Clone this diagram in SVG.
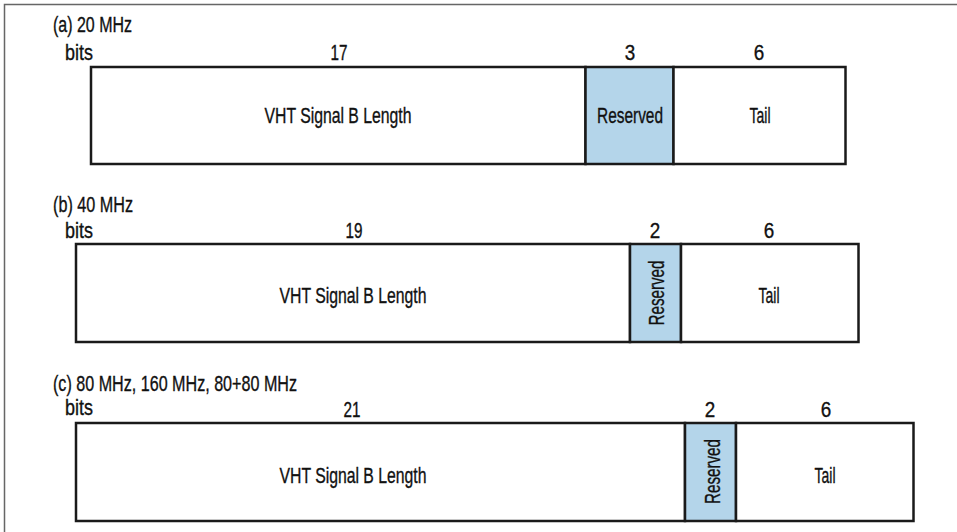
<svg xmlns="http://www.w3.org/2000/svg" width="957" height="532" viewBox="0 0 957 532">
<style>
text{font-family:"Liberation Sans Narrow","Liberation Sans",Arial,sans-serif;font-size:22px;fill:#111;stroke:#111;stroke-width:0.35}
.m{text-anchor:middle}
.box{fill:#fff;stroke:#1a1a1a;stroke-width:2.5}
.res{fill:#b4d5ea;stroke:#1a1a1a;stroke-width:2.5}
.frame{fill:none;stroke:#666;stroke-width:1.5}
</style>
<path class="frame" d="M4.5 532V4.5H957"/>
<g id="row-a">
<text x="53" y="32" textLength="79" lengthAdjust="spacingAndGlyphs">(a) 20 MHz</text>
<text x="65" y="60" textLength="28" lengthAdjust="spacingAndGlyphs">bits</text>
<text class="m" x="339" y="60" textLength="17" lengthAdjust="spacingAndGlyphs">17</text>
<text class="m" x="630" y="60" textLength="10.5" lengthAdjust="spacingAndGlyphs">3</text>
<text class="m" x="759" y="60" textLength="10.5" lengthAdjust="spacingAndGlyphs">6</text>
<g id="a-length"><rect class="box" x="91" y="67" width="494.5" height="97"/><text class="m" x="338" y="122.5" textLength="147" lengthAdjust="spacingAndGlyphs">VHT Signal B Length</text></g>
<g id="a-reserved"><rect class="res" x="585.5" y="67" width="88" height="97"/><text class="m" x="630" y="122.5" textLength="66" lengthAdjust="spacingAndGlyphs">Reserved</text></g>
<g id="a-tail"><rect class="box" x="673.5" y="67" width="172" height="97"/><text class="m" x="760" y="122.5" textLength="21" lengthAdjust="spacingAndGlyphs">Tail</text></g>
</g>
<g id="row-b">
<text x="53" y="211.5" textLength="80" lengthAdjust="spacingAndGlyphs">(b) 40 MHz</text>
<text x="65" y="238" textLength="28" lengthAdjust="spacingAndGlyphs">bits</text>
<text class="m" x="354" y="237.5" textLength="17" lengthAdjust="spacingAndGlyphs">19</text>
<text class="m" x="655" y="237.5" textLength="10.5" lengthAdjust="spacingAndGlyphs">2</text>
<text class="m" x="769" y="237.5" textLength="10.5" lengthAdjust="spacingAndGlyphs">6</text>
<g id="b-length"><rect class="box" x="76" y="244" width="554" height="98"/><text class="m" x="353" y="302.5" textLength="147" lengthAdjust="spacingAndGlyphs">VHT Signal B Length</text></g>
<g id="b-reserved"><rect class="res" x="630" y="244" width="51" height="98"/><text class="m" transform="translate(664 293) rotate(-90)" textLength="65" lengthAdjust="spacingAndGlyphs">Reserved</text></g>
<g id="b-tail"><rect class="box" x="681" y="244" width="177.5" height="98"/><text class="m" x="769" y="302.5" textLength="21" lengthAdjust="spacingAndGlyphs">Tail</text></g>
</g>
<g id="row-c">
<text x="53" y="390.5" textLength="244" lengthAdjust="spacingAndGlyphs">(c) 80 MHz, 160 MHz, 80+80 MHz</text>
<text x="65" y="415" textLength="28" lengthAdjust="spacingAndGlyphs">bits</text>
<text class="m" x="352" y="416.5" textLength="17" lengthAdjust="spacingAndGlyphs">21</text>
<text class="m" x="710" y="416.5" textLength="10.5" lengthAdjust="spacingAndGlyphs">2</text>
<text class="m" x="826" y="416.5" textLength="10.5" lengthAdjust="spacingAndGlyphs">6</text>
<g id="c-length"><rect class="box" x="76" y="423" width="609" height="98"/><text class="m" x="353" y="482.5" textLength="147" lengthAdjust="spacingAndGlyphs">VHT Signal B Length</text></g>
<g id="c-reserved"><rect class="res" x="685" y="423" width="51" height="98"/><text class="m" transform="translate(719.5 471.5) rotate(-90)" textLength="65" lengthAdjust="spacingAndGlyphs">Reserved</text></g>
<g id="c-tail"><rect class="box" x="736" y="423" width="177.5" height="98"/><text class="m" x="825" y="482.5" textLength="21" lengthAdjust="spacingAndGlyphs">Tail</text></g>
</g>
<g id="connectors"/>
</svg>
